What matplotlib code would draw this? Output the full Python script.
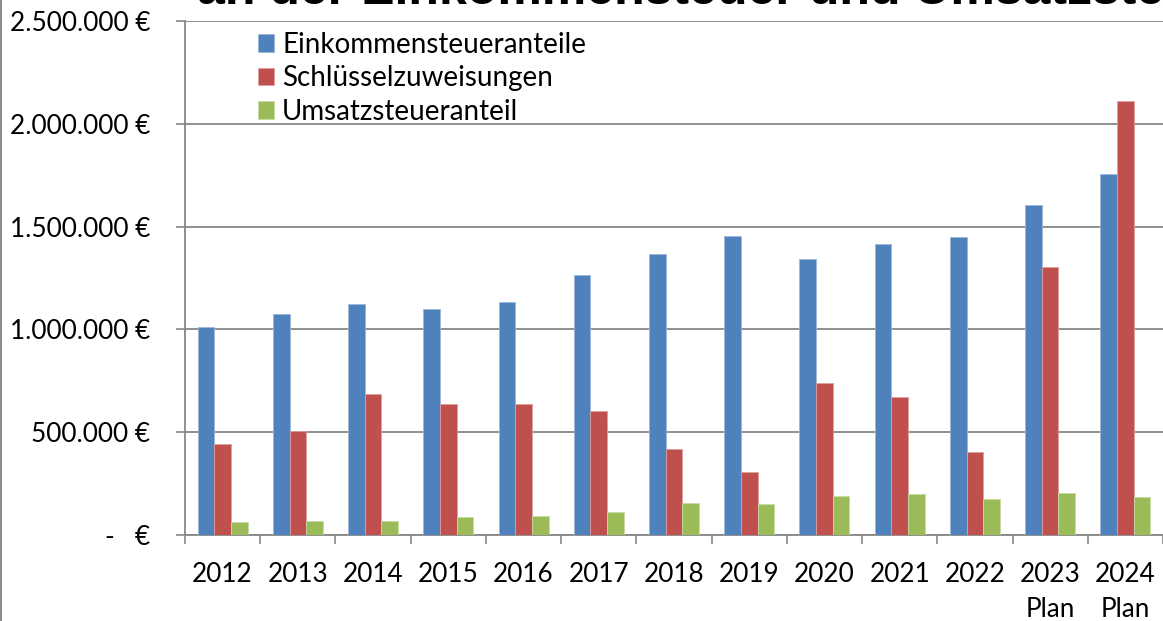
import matplotlib
matplotlib.use("Agg")
import matplotlib.pyplot as plt
from matplotlib.lines import Line2D
import numpy as np

years = ["2012", "2013", "2014", "2015", "2016", "2017", "2018", "2019",
         "2020", "2021", "2022", "2023\nPlan", "2024\nPlan"]
einkommensteuer = [1011000, 1076000, 1125000, 1097000, 1131000, 1266000, 1369000,
                   1453000, 1344000, 1416000, 1450000, 1606000, 1758000]
schluessel = [442000, 506000, 686000, 638000, 639000, 604000, 419000,
              305000, 738000, 672000, 406000, 1302000, 2113000]
umsatzsteuer = [65000, 68000, 70000, 89000, 91000, 114000, 156000,
                151000, 190000, 198000, 177000, 204000, 185000]
series_names = ["Einkommensteueranteile", "Schlüsselzuweisungen", "Umsatzsteueranteil"]
colors = ["#4F81BD", "#C0504D", "#9BBB59"]
edge_colors = ["#9DB7DA", "#DE9F9D", "#C7DBA3"]
ytick_vals = [0, 500000, 1000000, 1500000, 2000000, 2500000]
ytick_labels = ["-   €", "500.000 €", "1.000.000 €", "1.500.000 €", "2.000.000 €", "2.500.000 €"]
title_text = "an der Einkommensteuer und Umsatzsteuer"

plt.rcParams['font.family'] = ['Lato', 'DejaVu Sans']

W, H = 1163, 621
fig = plt.figure(figsize=(W / 100, H / 100), dpi=100)
ax = fig.add_axes([185 / W, 1 - 535 / H, (1163 - 185) / W, (535 - 21) / H])

x = np.arange(len(years))
bw = 0.2217
for i, (vals, c, ec, name) in enumerate(zip([einkommensteuer, schluessel, umsatzsteuer],
                                             colors, edge_colors, series_names)):
    ax.bar(x + (i - 1) * bw, vals, width=bw, color=c, edgecolor=ec, linewidth=0.6,
           label=name, zorder=3)

ax.set_xlim(-0.5, len(years) - 0.5)
ax.set_ylim(0, 2500000)
ax.set_yticks(ytick_vals)
ax.set_yticklabels(ytick_labels)
ax.set_xticks(np.arange(-0.5, len(years), 1.0))
ax.set_xticklabels([])
ax.set_xticks(x, minor=True)
ax.set_xticklabels(years, minor=True)

fs = 18.8
lfs = 20
grid_c = "#878787"
ax.tick_params(axis='y', which='major', length=6.5, width=1.2, color=grid_c,
               labelsize=fs, pad=18.5, direction='out')
ax.tick_params(axis='x', which='major', length=6.5, width=1.2, color=grid_c, direction='out')
ax.tick_params(axis='x', which='minor', length=0, labelsize=fs, pad=19.5)
for lab in ax.get_xticklabels(minor=True):
    lab.set_linespacing(1.5)

for s in ['top', 'right']:
    ax.spines[s].set_visible(False)
for s in ['left', 'bottom']:
    ax.spines[s].set_color(grid_c)
    ax.spines[s].set_linewidth(1.3)
ax.yaxis.grid(True, color=grid_c, linewidth=1.3, zorder=0)
ax.set_axisbelow(True)

leg = ax.legend(loc='upper left', bbox_to_anchor=(63 / (1163 - 185), 1 - 1 / 514),
                frameon=False, fontsize=lfs, handlelength=0.58, handleheight=0.58,
                handletextpad=0.3, labelspacing=0.27, borderaxespad=0.15, borderpad=0.2)

fig.add_artist(Line2D([0.8 / W, 0.8 / W], [0, 1], transform=fig.transFigure,
                      color="#8C8C8C", linewidth=1.5))
fig.text(197 / W, 1 - 3.5 / H, title_text, fontsize=36, fontweight='bold',
         family=['Liberation Sans', 'DejaVu Sans'], va='baseline', ha='left')

fig.savefig("out.png", dpi=100)
